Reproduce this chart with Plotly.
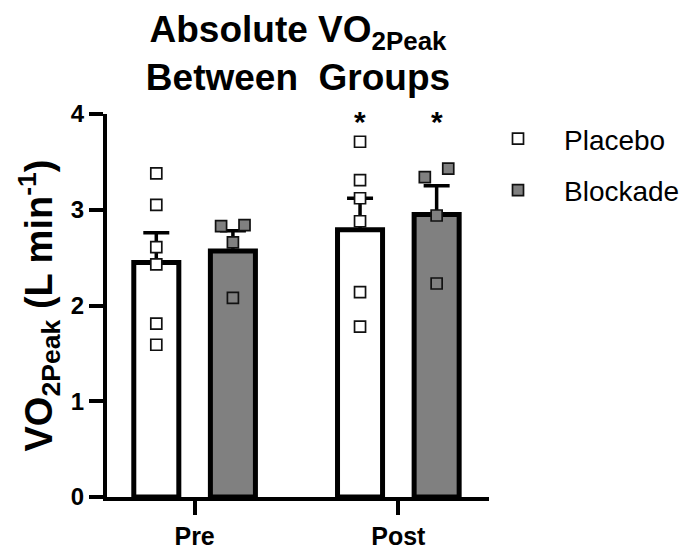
import plotly.graph_objects as go

# ---- data -------------------------------------------------------------
periods = ["Pre", "Post"]

placebo_mean = [2.45, 2.79]
placebo_sem = [0.31, 0.33]
blockade_mean = [2.57, 2.95]
blockade_sem = [0.21, 0.30]

placebo_pre = [3.38, 3.05, 2.61, 2.43, 1.81, 1.59]
placebo_post = [3.71, 3.31, 3.12, 2.88, 2.14, 1.78]
blockade_pre = [2.83, 2.84, 2.66, 2.08]
blockade_post = [3.34, 3.43, 2.94, 2.23]

y_ticks = [0, 1, 2, 3, 4]

# ---- layout constants -------------------------------------------------
FONT = "Liberation Sans, Arial, sans-serif"
GREY = "#808080"
BAR_W = 0.221          # bar width in category units
GROUP_OFF = 0.188      # distance of each bar centre from the category centre
blockade_jitter = [-0.058, 0.057, 0.0, 0.0]   # horizontal spread of tied points
placebo_jitter = [0.0] * 6

xpos = list(range(len(periods)))

fig = go.Figure()

err_style = dict(type="data", symmetric=False, color="black", thickness=3.5, width=13)

fig.add_trace(go.Bar(
    x=xpos, y=placebo_mean, width=BAR_W, offset=-GROUP_OFF - BAR_W / 2,
    marker=dict(color="white", line=dict(color="black", width=5)),
    error_y=dict(array=placebo_sem, arrayminus=[0] * len(xpos), **err_style),
    showlegend=False, hoverinfo="skip",
))
fig.add_trace(go.Bar(
    x=xpos, y=blockade_mean, width=BAR_W, offset=GROUP_OFF - BAR_W / 2,
    marker=dict(color=GREY, line=dict(color="black", width=5)),
    error_y=dict(array=blockade_sem, arrayminus=[0] * len(xpos), **err_style),
    showlegend=False, hoverinfo="skip",
))

def point_x(period_idx, side, jitter):
    return [period_idx + side * GROUP_OFF + j for j in jitter]

pl_x = point_x(0, -1, placebo_jitter) + point_x(1, -1, placebo_jitter)
pl_y = placebo_pre + placebo_post
bl_x = point_x(0, 1, blockade_jitter) + point_x(1, 1, blockade_jitter)
bl_y = blockade_pre + blockade_post

fig.add_trace(go.Scatter(
    x=pl_x, y=pl_y, mode="markers", name="Placebo", legendgroup="p",
    marker=dict(symbol="square", size=11, color="white", line=dict(color="#111", width=1.7)),
))
fig.add_trace(go.Scatter(
    x=bl_x, y=bl_y, mode="markers", name="Blockade", legendgroup="b",
    marker=dict(symbol="square", size=11, color=GREY, line=dict(color="#111", width=1.7)),
))

# significance markers over the Post bars
for side in (-1, 1):
    fig.add_annotation(
        x=1 + side * GROUP_OFF, y=3.92, text="*", showarrow=False,
        xanchor="center", yanchor="middle",
        font=dict(family=FONT, size=30, color="black", weight="bold"),
    )

axis_common = dict(
    showline=True, linecolor="black", linewidth=4,
    ticks="outside", ticklen=14, tickwidth=3.5, tickcolor="black",
    showgrid=False, zeroline=False, fixedrange=True, automargin=False,
)

fig.update_layout(
    width=694, height=550,
    margin=dict(l=107, r=205, t=114, b=53, autoexpand=False),
    paper_bgcolor="white", plot_bgcolor="white",
    barmode="overlay",
    font=dict(family=FONT, color="black"),
    title=dict(
        text="Absolute VO<sub>2Peak</sub><br>Between\u00a0 Groups",
        x=0.5, xref="paper", xanchor="center",
        y=1 - 42 / 550, yref="container", yanchor="top",
        font=dict(family=FONT, size=37, color="black", weight="bold"),
    ),
    xaxis=dict(
        range=[-0.43, 1.445], tickvals=xpos, ticktext=periods,
        tickfont=dict(family=FONT, size=25, color="black", weight="bold"),
        **axis_common,
    ),
    yaxis=dict(
        range=[0, 4], tickvals=y_ticks,
        tickfont=dict(family=FONT, size=24, color="black", weight="bold"),
        title=dict(
            text="VO<sub>2Peak</sub> (L min<sup>-1</sup>)",
            font=dict(family=FONT, size=38, color="black", weight="bold"),
            standoff=8,
        ),
        **axis_common,
    ),
    legend=dict(
        xref="container", yref="container",
        x=472 / 694, y=1 - 114 / 550, xanchor="left", yanchor="top",
        font=dict(family=FONT, size=28, color="black"),
        itemwidth=82, tracegroupgap=12, bgcolor="rgba(0,0,0,0)",
    ),
)

fig.write_html("out.html")
